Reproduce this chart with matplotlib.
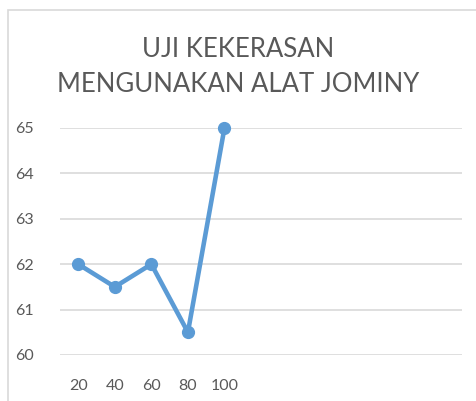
import matplotlib.pyplot as plt
from matplotlib.patches import Rectangle

# data
x_labels = ["20", "40", "60", "80", "100", "", "", "", "", "", ""]
kekerasan = [62, 61.5, 62, 60.5, 65]
title = "UJI KEKERASAN\nMENGUNAKAN ALAT JOMINY"

W, H = 476, 401
fig = plt.figure(figsize=(W / 100, H / 100), dpi=100)
plt.rcParams['font.family'] = ['Lato', 'DejaVu Sans']

# chart border (cropped on right/bottom)
fig.add_artist(Rectangle((8 / W, -0.1), 1.2, 1 - 10 / H + 0.1, transform=fig.transFigure,
                         fill=False, edgecolor="#d9d9d9", linewidth=1.2))

ax = fig.add_axes([60 / W, 1 - 355 / H, (462 - 60) / W, (355 - 128) / H])
pos = list(range(len(x_labels)))
ax.plot(pos[:len(kekerasan)], kekerasan, color="#5b9bd5", linewidth=3.3,
        marker="o", markersize=8.5, solid_joinstyle="round", clip_on=False)
ax.set_xlim(-0.5, len(x_labels) - 0.5)
ax.set_ylim(60, 65)
ax.set_yticks(range(60, 66))
ax.set_xticks(pos)
ax.set_xticklabels(x_labels)
ax.grid(axis="y", color="#d9d9d9", linewidth=1.2)
ax.set_axisbelow(True)
for s in ax.spines.values():
    s.set_visible(False)
ax.tick_params(length=0, colors="#595959", labelsize=11.5)
ax.tick_params(axis="y", pad=19)
ax.tick_params(axis="x", pad=17)

fig.text(0.5, 1 - 67 / H, title, ha="center", va="center", color="#595959",
         fontsize=18.5, linespacing=1.5)

fig.savefig("out.png", dpi=100)
